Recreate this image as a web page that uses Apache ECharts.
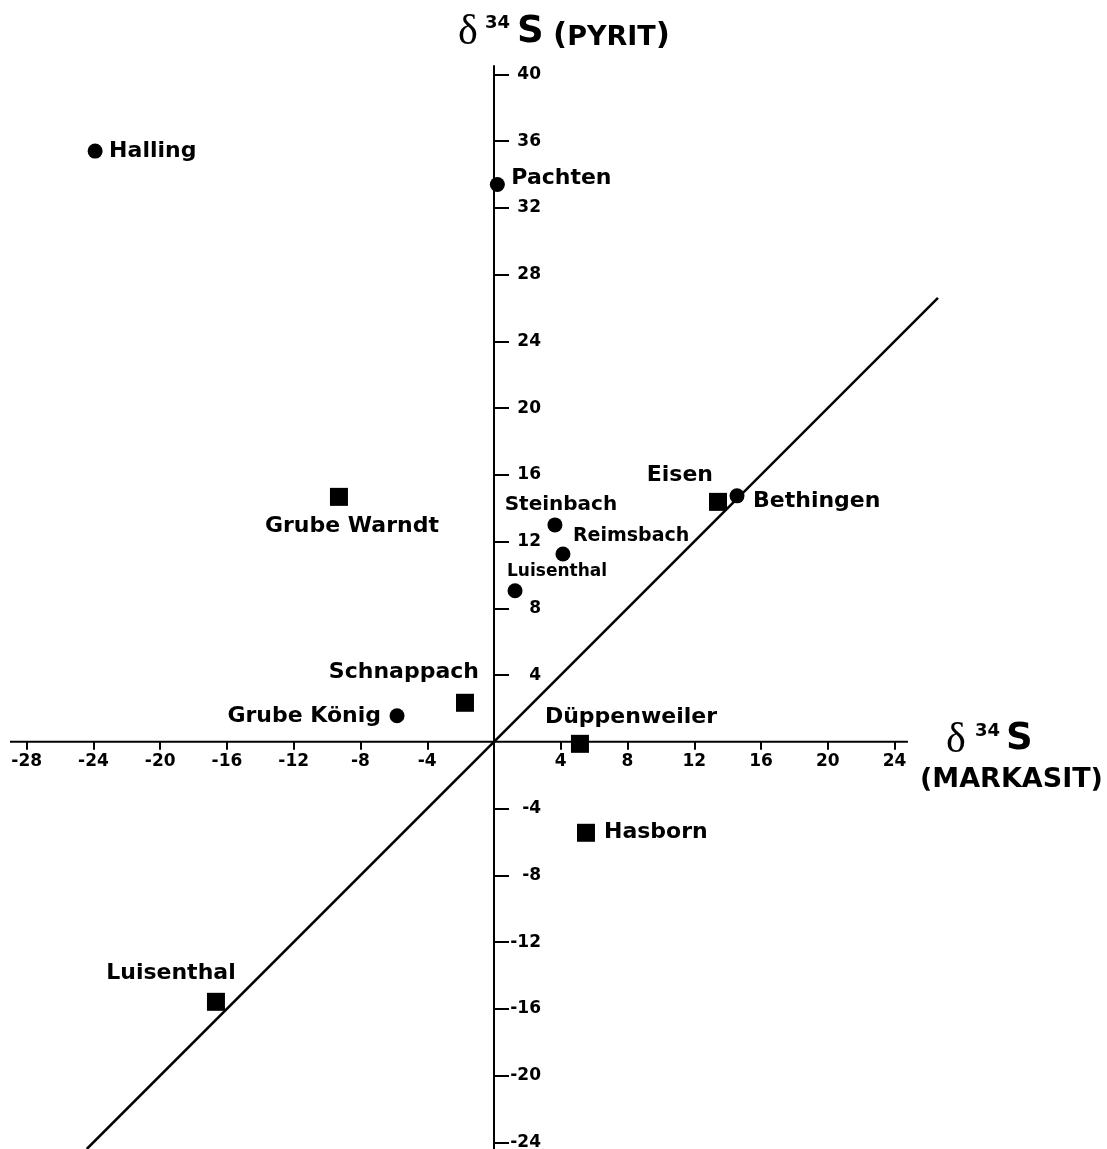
<!DOCTYPE html>
<html>
<head>
<meta charset="utf-8">
<script src="https://cdn.jsdelivr.net/npm/echarts@6/dist/echarts.min.js"></script>
<style>
html,body{margin:0;padding:0;background:#fff;}
#chart{width:1107px;height:1149px;}
</style>
</head>
<body>
<div id="chart"></div>
<script>
// ---- data ----
const xTickValues = [-28, -24, -20, -16, -12, -8, -4, 4, 8, 12, 16, 20, 24];
const yTickValues = [40, 36, 32, 28, 24, 20, 16, 12, 8, 4, -4, -8, -12, -16, -20, -24];

const pyritNames = ['Halling', 'Pachten', 'Steinbach', 'Reimsbach', 'Luisenthal', 'Bethingen', 'Grube König'];
const pyritX = [-23.9, 0.2, 3.65, 4.13, 1.26, 14.56, -5.81];
const pyritY = [35.4, 33.4, 13.0, 11.26, 9.05, 14.74, 1.56];

const markasitNames = ['Grube Warndt', 'Eisen', 'Schnappach', 'Düppenweiler', 'Hasborn', 'Luisenthal'];
const markasitX = [-9.29, 13.42, -1.74, 5.15, 5.51, -16.66];
const markasitY = [14.68, 14.38, 2.34, -0.12, -5.45, -15.58];

const diagonalX = [-24.4, 26.6];
const diagonalY = [-24.4, 26.6];

// visible extent of the horizontal (Markasit) axis line
const xAxisLineX = [-29, 24.8];
const xAxisLineY = [0, 0];

// ---- styling / label layout ----
const FONT = '"DejaVu Sans", "Liberation Sans", Arial, sans-serif';
const SERIF = '"Liberation Serif", "DejaVu Serif", serif';
const circleLabelLayout = [
  {align: 'left', offset: [14, 0], size: 22},
  {align: 'left', offset: [14, -6], size: 22},
  {align: 'center', offset: [6, -20], size: 20},
  {align: 'left', offset: [10, -18], size: 19},
  {align: 'left', offset: [-8, -19], size: 17},
  {align: 'left', offset: [16, 5], size: 22},
  {align: 'right', offset: [-16, 0], size: 22}
];
const squareLabelLayout = [
  {align: 'center', offset: [13, 29], size: 22},
  {align: 'right', offset: [-5, -27], size: 22},
  {align: 'right', offset: [14, -31], size: 22},
  {align: 'center', offset: [51, -27], size: 22},
  {align: 'left', offset: [18, 0], size: 22},
  {align: 'center', offset: [-45, -29], size: 22}
];

function buildPoints(names, xs, ys, layout) {
  return names.map((n, i) => ({
    name: n,
    value: [xs[i], ys[i]],
    label: {
      show: true,
      formatter: n,
      position: 'inside',
      align: layout[i].align,
      verticalAlign: 'middle',
      offset: layout[i].offset,
      fontSize: layout[i].size,
      fontWeight: 'bold',
      fontFamily: FONT,
      color: '#000',
      opacity: 1
    }
  }));
}

const PX_PER_UNIT = 16.69;
const X_MIN = -29, X_MAX = 26.8, Y_MIN = -24.4, Y_MAX = 40.5;
const W = 1107, H = 1149;
const GRID_LEFT = 10, GRID_TOP = 66, GRID_BOTTOM = 0;
const gridW = (X_MAX - X_MIN) * PX_PER_UNIT;
const gridH = H - GRID_TOP - GRID_BOTTOM;
const GRID_RIGHT = W - GRID_LEFT - gridW;
// shift axes so they cross at the data origin
const yAxisOffset = -((0 - X_MIN) / (X_MAX - X_MIN) * gridW);
const xAxisOffset = -((0 - Y_MIN) / (Y_MAX - Y_MIN) * gridH);
const yOriginPx = GRID_LEFT - yAxisOffset;

const chart = echarts.init(document.getElementById('chart'), null, {renderer: 'canvas'});

const option = {
  backgroundColor: '#fff',
  animation: false,
  grid: {left: GRID_LEFT, right: GRID_RIGHT, top: GRID_TOP, bottom: GRID_BOTTOM, containLabel: false, outerBoundsMode: 'none'},
  xAxis: {
    type: 'value', min: X_MIN, max: X_MAX, position: 'bottom', offset: xAxisOffset,
    splitLine: {show: false},
    axisLine: {show: false, onZero: false},
    axisTick: {show: true, customValues: xTickValues, length: 8, lineStyle: {color: '#000', width: 2}},
    axisLabel: {customValues: xTickValues, margin: 11, color: '#000', fontSize: 17, fontWeight: 'bold', fontFamily: FONT}
  },
  yAxis: {
    type: 'value', min: Y_MIN, max: Y_MAX, position: 'left', offset: yAxisOffset,
    splitLine: {show: false},
    axisLine: {onZero: false, lineStyle: {color: '#000', width: 2}},
    axisTick: {show: true, inside: true, customValues: yTickValues, length: 15, lineStyle: {color: '#000', width: 2}},
    axisLabel: {inside: true, align: 'right', customValues: yTickValues, margin: 47, color: '#000', fontSize: 17, fontWeight: 'bold', fontFamily: FONT}
  },
  series: [
    {
      type: 'line',
      data: xAxisLineX.map((x, i) => [x, xAxisLineY[i]]),
      symbol: 'none',
      lineStyle: {color: '#000', width: 2},
      silent: true,
      z: 1
    },
    {
      type: 'line',
      data: diagonalX.map((x, i) => [x, diagonalY[i]]),
      symbol: 'none',
      clip: false,
      lineStyle: {color: '#000', width: 2.5},
      silent: true,
      z: 1
    },
    {
      type: 'scatter',
      symbol: 'circle',
      symbolSize: 15,
      itemStyle: {color: '#000', opacity: 1},
      data: buildPoints(pyritNames, pyritX, pyritY, circleLabelLayout),
      clip: false,
      z: 3
    },
    {
      type: 'scatter',
      symbol: 'rect',
      symbolSize: 18,
      itemStyle: {color: '#000', opacity: 1},
      data: buildPoints(markasitNames, markasitX, markasitY, squareLabelLayout),
      clip: false,
      z: 3
    }
  ],
  graphic: [
    // top (y-axis) title
    {type: 'text', left: 458, top: 12, style: {text: 'δ', font: '42px ' + SERIF, fill: '#000'}},
    {type: 'text', left: 485, top: 14, style: {text: '34', font: 'bold 18px ' + FONT, fill: '#000'}},
    {type: 'text', left: 517, top: 14, style: {text: 'S', font: 'bold 37px ' + FONT, fill: '#000'}},
    {type: 'text', left: 553, top: 20, style: {
      text: '{p|(}{c|PYRIT}{p|)}',
      rich: {
        p: {font: 'bold 31px ' + FONT, fill: '#000', verticalAlign: 'bottom'},
        c: {font: 'bold 27px ' + FONT, fill: '#000', verticalAlign: 'bottom'}
      }
    }},
    // right (x-axis) title
    {type: 'text', left: 946, top: 720, style: {text: 'δ', font: '42px ' + SERIF, fill: '#000'}},
    {type: 'text', left: 975, top: 722, style: {text: '34', font: 'bold 18px ' + FONT, fill: '#000'}},
    {type: 'text', left: 1006, top: 721, style: {text: 'S', font: 'bold 37px ' + FONT, fill: '#000'}},
    {type: 'text', left: 920, top: 766, style: {text: '(MARKASIT)', font: 'bold 27px ' + FONT, fill: '#000'}}
  ]
};
chart.setOption(option);
</script>
</body>
</html>
